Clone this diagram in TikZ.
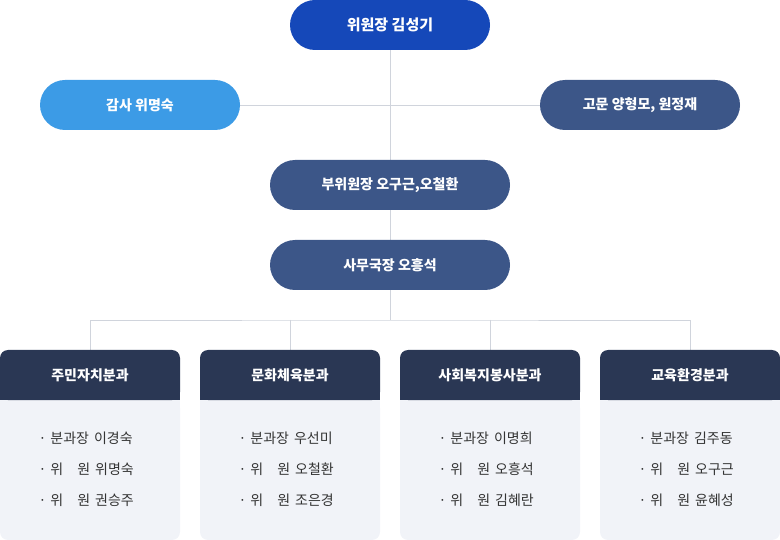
\documentclass[tikz,border=0pt]{standalone}
\usepackage{fontspec}
\setmainfont{Noto Sans CJK KR}
\usetikzlibrary{positioning}
\definecolor{chairblue}{HTML}{1548B9}
\definecolor{auditblue}{HTML}{3C9BE6}
\definecolor{staffblue}{HTML}{3C5688}
\definecolor{headnavy}{HTML}{2A3754}
\definecolor{bodygray}{HTML}{F1F3F8}
\definecolor{linegray}{HTML}{D0D4DC}

\tikzset{
  pill/.style={rounded corners=25pt, minimum height=50pt, text=white, font=\fontsize{14}{16}\selectfont\bfseries, inner sep=0pt},
  deptHead/.style={fill=headnavy, minimum width=180pt, minimum height=50pt, text=white, font=\fontsize{14}{16}\selectfont\bfseries, inner sep=0pt},
  member/.style={font=\fontsize{14}{16}\selectfont, text=black!80, anchor=west},
  wire/.style={linegray, line width=0.8pt}
}

\begin{document}
\begin{tikzpicture}[x=1pt, y=-1pt]
  \useasboundingbox (0,0) rectangle (780,540);

  % connectors first
  \coordinate (split) at (390,320);
  \draw[wire] (390,25) -- (split);
  \draw[wire] (240,105) -- (540,105);
  \draw[wire] (90,350) |- (split) -| (690,350);
  \draw[wire] (290,320) -- (290,350);
  \draw[wire] (490,320) -- (490,350);

  \node[pill, fill=chairblue, minimum width=200pt, font=\fontsize{15}{17}\selectfont\bfseries] (chair) at (390,25) {위원장 김성기};
  \node[pill, fill=auditblue, minimum width=200pt] (audit) at (140,105) {감사 위명숙};
  \node[pill, fill=staffblue, minimum width=200pt] (advisor) at (640,105) {고문 양형모, 원정재};
  \node[pill, fill=staffblue, minimum width=240pt] (vice) at (390,185) {부위원장 오구근,오철환};
  \node[pill, fill=staffblue, minimum width=240pt] (office) at (390,265) {사무국장 오흥석};

  % departments
  \foreach \cx/\dname/\lead/\ma/\mb [count=\i] in {
      90/주민자치분과/이경숙/위명숙/권승주,
      290/문화체육분과/우선미/오철환/조은경,
      490/사회복지봉사분과/이명희/오흥석/김혜란,
      690/교육환경분과/김주동/오구근/윤혜성} {
    \fill[bodygray, rounded corners=8pt] (\cx-90,400) -- (\cx-90,540) -- (\cx+90,540) -- (\cx+90,400) -- cycle;
    \fill[bodygray] (\cx-90,400) rectangle (\cx+90,420);
    \fill[headnavy, rounded corners=8pt] (\cx-90,400) -- (\cx-90,350) -- (\cx+90,350) -- (\cx+90,400) -- cycle;
    \fill[headnavy] (\cx-90,390) rectangle (\cx+90,400);
    \node[deptHead, fill=none] (dept\i) at (\cx,375) {\dname};
    \node[member] (lead\i) at (\cx-55,438) {·\hspace{4pt}분과장\hspace{5pt}\lead};
    \node[member] (mema\i) at (\cx-55,469) {·\hspace{4pt}위\hspace{14pt}원\hspace{5pt}\ma};
    \node[member] (memb\i) at (\cx-55,500) {·\hspace{4pt}위\hspace{14pt}원\hspace{5pt}\mb};
  }
\end{tikzpicture}
\end{document}
